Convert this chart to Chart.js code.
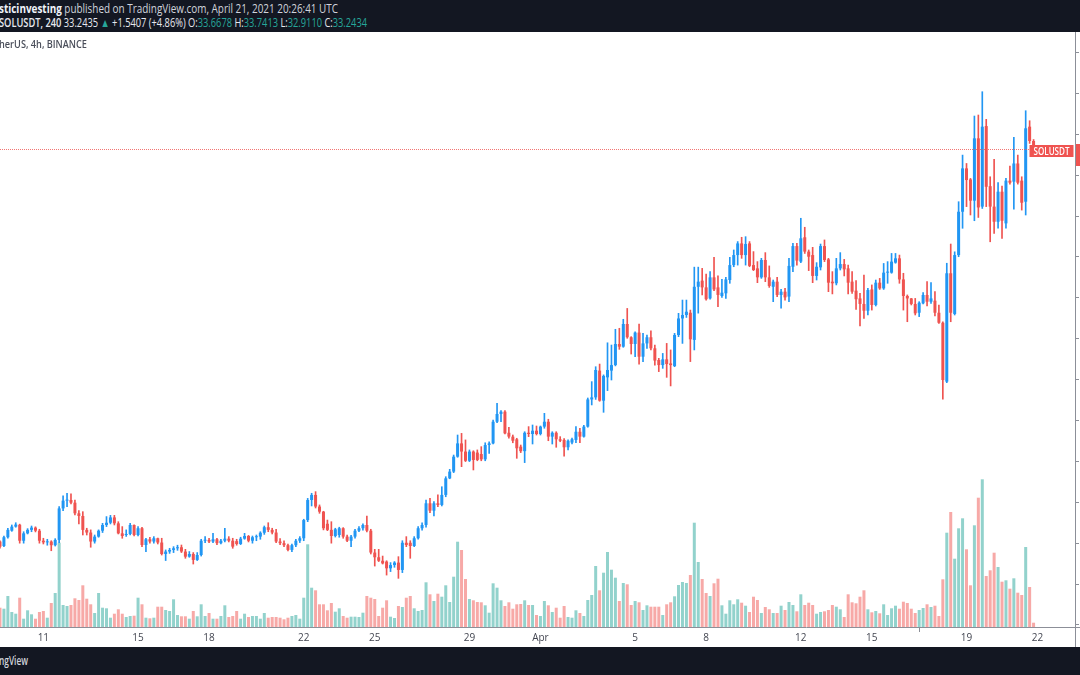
<!DOCTYPE html>
<html><head><meta charset="utf-8">
<script src="https://cdn.jsdelivr.net/npm/chart.js@4.4.0/dist/chart.umd.min.js"></script>
<style>
html,body{margin:0;padding:0;width:1080px;height:675px;overflow:hidden;background:#fff;}
#top{position:absolute;left:0;top:0;width:1080px;height:32px;background:#131722;overflow:hidden;}
#bottom{position:absolute;left:0;top:647px;width:1080px;height:28px;background:#131722;overflow:hidden;}
.t{position:absolute;white-space:nowrap;transform-origin:0 50%;font-family:"Open Sans","Noto Sans",sans-serif;line-height:14px;}
.g{color:#26a69a;}
#wrap{position:absolute;left:-2px;top:32px;width:1140px;height:615px;}
</style></head><body>
<div id="wrap"><canvas id="c" width="1140" height="615"></canvas></div>
<div id="top">
  <div class="t" id="h1" style="left:-1px;top:2px;font-size:12px;color:#d1d4dc;"><b style="color:#f0f3fa">sticinvesting</b> published on TradingView.com, April 21, 2021 20:26:41 UTC</div>
  <div class="t" id="h2" style="left:-1px;top:16px;font-size:12px;color:#e6e8ee;"><span style="font-weight:600">SOLUSDT, 240</span> 33.2435 <span class="g">▲</span> +1.5407 (+4.86%) O:<span class="g">33.6678</span> H:<span class="g">33.7413</span> L:<span class="g">32.9110</span> C:<span class="g">33.2434</span></div>
</div>
<div class="t" id="sub" style="left:-1px;top:37px;font-size:11px;font-weight:600;color:#4a4e5a;">herUS, 4h, BINANCE</div>
<div id="bottom"><div class="t" id="brand" style="left:-1px;top:7px;font-size:12px;font-weight:600;color:#d1d4dc;">ngView</div></div>
<script>
// ---- data (SOL/USDT, Binance, 4h candles from 2021-03-09 04:00 UTC) ----
const startTimeUTC = Date.UTC(2021, 2, 9, 4);
const slotCount = 273; // candle slots incl. empty right margin

const opens = [
14.08,13.86,14.29,14.61,14.81,14.90,14.12,14.48,14.65,14.76,
14.61,14.12,14.04,14.08,13.90,14.16,15.70,16.08,16.11,15.98,
15.46,15.33,14.65,14.52,14.08,14.32,14.61,14.89,15.00,15.26,
14.97,14.48,14.40,14.45,14.89,14.40,14.73,13.91,14.19,14.08,
14.24,14.03,13.47,13.59,13.67,13.75,13.80,13.59,13.34,13.47,
13.18,13.42,14.12,14.16,14.08,14.19,14.00,14.12,14.22,14.12,
14.10,13.96,14.22,14.35,14.12,14.29,14.32,14.51,14.78,14.65,
14.52,14.08,14.00,13.90,13.67,13.90,14.12,14.24,15.13,16.11,
16.36,15.79,15.54,14.95,14.65,14.35,14.40,14.73,14.32,14.12,
14.32,14.61,14.73,14.89,14.61,13.54,13.31,13.14,13.10,12.77,
12.93,13.05,12.69,14.02,14.02,13.86,14.24,14.73,14.89,15.95,
15.59,15.95,15.87,16.36,17.17,17.50,18.23,18.88,18.48,18.03,
18.48,18.43,18.36,18.10,18.80,18.88,19.94,20.32,20.43,19.40,
19.21,19.08,18.72,18.50,19.40,19.34,19.50,19.34,19.70,19.94,
19.21,19.40,19.08,19.05,18.69,18.92,19.05,19.45,19.21,19.70,
21.03,21.13,22.44,20.97,22.11,22.44,22.71,23.74,23.61,24.72,
24.07,23.74,24.30,23.12,23.77,24.07,23.53,22.96,22.71,22.99,
22.79,22.66,24.18,24.99,25.16,25.27,23.94,26.54,26.84,26.51,
25.97,27.00,26.51,26.09,26.22,26.87,27.60,28.09,28.66,28.09,
28.66,27.60,27.44,27.00,27.85,27.00,26.54,26.79,26.14,26.30,
26.06,27.52,28.53,27.77,28.96,28.26,28.09,27.07,27.49,28.53,
27.88,26.79,26.71,27.44,27.65,27.44,26.79,26.35,25.97,25.70,
25.37,26.41,25.65,26.74,26.46,27.23,27.23,27.72,27.93,26.90,
26.09,25.97,25.70,25.27,25.73,26.14,25.81,25.86,25.27,24.78,
21.90,27.20,25.21,28.09,30.21,32.33,31.79,30.75,33.80,30.46,
34.40,31.46,30.46,29.72,31.19,29.64,31.73,31.68,32.57,31.73,
30.70,34.37,33.67
];
const highs = [
14.12,14.35,14.73,14.89,15.00,14.93,14.56,14.71,14.84,14.80,
14.68,14.24,14.19,14.12,14.22,15.79,16.31,16.44,16.41,16.11,
15.59,15.54,14.73,14.65,14.40,14.65,14.97,15.30,15.36,15.36,
15.05,14.81,14.65,14.97,14.90,14.81,14.78,14.24,14.29,14.32,
14.25,14.24,13.67,13.75,13.83,13.90,13.91,13.70,13.59,13.54,
13.54,14.19,14.32,14.24,14.48,14.24,14.19,14.73,14.32,14.24,
14.19,14.29,14.48,14.38,14.35,14.40,14.56,14.84,15.00,14.73,
14.68,14.22,14.12,13.96,13.96,14.19,14.32,15.17,16.19,16.44,
16.52,15.87,15.56,15.13,15.05,14.73,14.78,14.76,14.40,14.38,
14.68,14.81,14.94,15.33,14.68,13.70,13.70,13.37,13.14,13.05,
13.10,13.34,14.12,14.32,14.12,14.32,14.81,15.00,16.11,16.19,
16.03,16.36,16.76,17.25,17.61,18.31,19.29,19.37,19.05,18.56,
18.52,18.56,18.72,18.91,18.96,20.02,20.84,20.48,20.48,19.66,
19.29,19.13,18.80,19.45,19.70,19.78,19.73,19.73,20.35,20.06,
19.45,19.45,19.21,19.11,19.05,19.14,19.70,19.62,19.76,21.10,
21.90,22.63,22.76,22.23,23.80,23.69,24.46,24.51,24.95,25.48,
24.10,24.34,24.72,24.26,24.18,24.39,23.69,23.04,23.28,23.77,
23.45,24.26,25.24,25.89,25.89,25.40,27.50,27.50,27.44,27.16,
27.28,27.98,27.07,26.90,27.00,27.98,28.34,28.75,28.96,28.99,
28.75,28.26,27.77,27.93,28.21,27.56,26.87,27.00,26.41,26.46,
27.93,28.66,28.66,29.89,29.45,28.34,28.47,27.72,28.63,28.83,
27.93,27.28,27.93,28.21,27.88,27.60,27.28,26.84,26.22,27.11,
26.46,26.63,26.87,26.95,27.68,27.77,28.17,28.17,28.09,27.20,
26.14,25.97,25.97,25.81,26.25,26.79,26.74,26.30,25.65,24.83,
27.69,28.63,28.25,30.70,32.98,32.57,31.84,34.89,34.94,36.08,
34.73,31.92,32.77,31.63,31.47,31.84,32.44,33.85,32.98,31.92,
35.15,34.66,33.74
];
const lows = [
13.75,13.83,14.24,14.58,14.78,14.00,14.00,14.45,14.56,14.55,
14.00,13.96,13.90,13.63,13.86,14.03,15.59,15.79,15.92,15.38,
14.94,14.40,14.40,13.80,14.00,14.29,14.52,14.81,14.94,14.89,
14.45,14.24,14.33,14.40,14.35,14.35,13.83,13.59,14.00,14.00,
13.96,13.42,13.15,13.50,13.54,13.65,13.54,13.26,13.31,12.98,
13.15,13.37,14.03,14.03,14.03,13.93,13.96,14.06,14.06,13.75,
13.90,13.93,14.19,14.06,14.00,14.12,14.19,14.43,14.56,14.45,
14.03,13.93,13.83,13.62,13.59,13.83,14.03,14.12,15.05,15.82,
15.72,15.46,14.65,14.61,14.00,14.30,14.29,14.24,14.07,13.83,
14.24,14.56,14.64,14.55,13.47,12.88,13.10,12.98,12.44,12.61,
12.82,12.28,12.56,13.83,13.26,13.83,14.19,14.64,14.78,15.49,
15.33,15.79,15.82,16.27,17.15,17.45,18.20,17.74,17.99,17.99,
17.58,18.03,18.03,18.03,18.39,18.85,19.89,19.94,19.34,19.13,
18.91,18.15,18.43,17.94,19.21,18.85,19.29,19.29,19.62,19.01,
18.85,18.69,18.96,18.26,18.56,18.85,18.92,18.92,19.18,19.67,
20.76,21.03,20.94,20.40,21.46,21.98,22.67,23.48,23.58,24.02,
23.25,23.12,22.76,22.88,23.53,23.45,22.71,22.39,22.55,22.11,
21.69,22.63,24.10,23.77,25.04,22.88,23.45,25.25,26.14,25.89,
25.93,26.35,25.57,26.02,25.97,26.71,27.52,27.60,27.93,27.60,
27.52,27.33,26.74,26.95,26.79,26.51,25.81,26.06,25.49,25.89,
25.81,27.28,27.60,27.72,28.17,27.33,26.74,26.87,27.36,27.77,
26.30,26.19,26.63,27.36,27.07,26.19,26.22,25.43,24.62,24.99,
25.16,25.40,25.60,26.41,26.41,26.71,27.20,27.69,26.71,25.40,
24.83,25.65,25.16,25.08,25.70,25.60,25.73,25.11,24.75,21.04,
21.85,24.83,25.16,28.01,29.40,30.46,30.05,29.77,29.93,30.37,
30.46,28.74,29.15,29.40,28.91,29.40,31.56,30.33,31.56,30.29,
30.05,33.55,32.91
];
const closes = [
13.83,14.29,14.65,14.81,14.91,14.12,14.48,14.65,14.76,14.61,
14.12,14.04,14.08,13.90,14.16,15.70,16.08,16.11,15.98,15.46,
15.33,14.65,14.52,14.08,14.32,14.61,14.89,15.00,15.26,14.97,
14.48,14.35,14.45,14.89,14.40,14.73,13.91,14.19,14.08,14.24,
14.03,13.47,13.59,13.67,13.75,13.80,13.59,13.34,13.47,13.18,
13.42,14.12,14.16,14.08,14.19,14.00,14.12,14.22,14.12,13.83,
13.96,14.22,14.35,14.12,14.29,14.32,14.51,14.78,14.65,14.52,
14.08,14.00,13.90,13.67,13.90,14.12,14.24,15.13,16.11,16.36,
15.79,15.54,14.73,14.65,14.35,14.68,14.73,14.32,14.12,14.32,
14.61,14.73,14.89,14.61,13.54,13.31,13.14,13.01,12.77,12.93,
13.05,12.69,14.02,13.91,13.86,14.24,14.73,14.89,15.95,15.59,
15.95,15.87,16.36,17.17,17.50,18.23,18.88,18.48,18.03,18.48,
18.07,18.07,18.10,18.80,18.88,19.94,20.32,20.43,19.37,19.21,
19.01,18.64,18.50,19.40,19.34,19.50,19.34,19.70,19.94,19.21,
19.40,19.08,19.01,18.69,19.01,19.08,19.45,19.21,19.70,21.03,
21.13,22.47,20.97,22.18,22.47,22.71,23.74,23.61,24.72,24.07,
23.74,24.30,23.12,23.77,24.07,23.53,22.93,22.71,22.99,22.76,
22.71,24.18,24.99,25.16,25.32,23.97,26.54,26.79,26.51,25.93,
27.00,26.41,26.14,26.25,26.90,27.60,28.09,28.66,28.09,28.63,
27.56,27.36,27.00,27.85,27.00,26.58,26.79,26.14,26.30,26.02,
27.56,28.53,27.82,28.91,28.26,28.01,27.07,27.52,28.53,27.85,
26.74,26.71,27.44,27.65,27.39,26.74,26.30,25.93,25.70,25.37,
26.38,25.65,26.74,26.46,27.23,27.28,27.77,27.93,26.90,26.09,
25.97,25.70,25.24,25.76,26.14,25.81,25.97,25.27,24.78,21.98,
27.20,25.27,28.09,30.21,32.33,31.76,30.75,33.80,30.42,34.37,
31.43,30.46,29.72,31.19,29.77,31.73,31.63,32.57,31.63,30.65,
34.29,33.67,33.24
];
const volumes = [ // thousands
193,183,310,150,133,293,83,167,127,83,
150,160,93,240,340,843,220,210,220,287,
270,417,283,227,140,340,193,187,93,133,
177,133,100,110,113,293,227,93,87,93,
203,203,170,160,277,120,107,107,83,160,
107,227,110,140,83,83,110,217,100,110,
160,83,133,100,110,110,83,140,93,100,
100,93,77,93,110,120,83,293,827,393,
367,227,227,167,240,153,187,110,93,103,
103,100,143,310,293,280,110,193,267,103,
90,210,200,293,310,187,160,170,447,327,
260,333,303,417,250,503,853,770,480,280,
267,250,247,217,143,437,393,267,210,247,
183,227,230,267,220,220,120,110,260,217,
150,193,93,210,100,93,167,140,110,270,
320,610,367,543,750,573,493,260,440,427,
220,260,247,170,217,203,203,203,120,227,
247,307,420,450,440,520,1043,650,480,340,
310,437,483,217,133,267,227,277,243,213,
150,303,270,140,200,177,140,140,213,170,
250,220,157,327,220,243,220,133,150,157,
170,220,203,177,100,327,247,237,303,367,
177,147,160,137,227,120,187,213,183,253,
240,183,140,170,190,227,200,213,110,477,
943,1150,683,987,1087,777,417,1017,1293,1477,
510,567,743,600,453,467,383,487,343,320,
800,400,43
];
const tickDays   = ['03-11','03-15','03-18','03-22','03-25','03-29','04-01','04-05','04-08','04-12','04-15','04-19','04-22'];
const tickLabels = ['11','15','18','22','25','29','Apr','5','8','12','15','19','22'];
const priceTicks = [10,12,14,16,18,20,22,24,26,28,30,32,34,36,38];
const symbolName = 'SOLUSDT';

// ---- build categories ----
const pad = n => String(n).padStart(2, '0');
const labels = [], tickText = [];
for (let k = 0; k < slotCount; k++) {
  const d = new Date(startTimeUTC + k * 4 * 3600 * 1000);
  const key = pad(d.getUTCMonth() + 1) + '-' + pad(d.getUTCDate());
  labels.push(key + ' ' + pad(d.getUTCHours()) + ':00');
  const ti = d.getUTCHours() === 0 ? tickDays.indexOf(key) : -1;
  tickText.push(ti >= 0 ? tickLabels[ti] : null);
}

const UP = '#2196f3', DOWN = '#ef5350';
const VUP = 'rgba(38,166,154,0.5)', VDOWN = 'rgba(239,83,80,0.5)';
const AXIS = '#8c8f98';
const isUp = k => closes[k] >= opens[k];
const padN = arr => arr.concat(new Array(slotCount - arr.length).fill(null));

const bodyData = padN(opens.map((o, k) => [o, closes[k]]));
const wickData = padN(lows.map((l, k) => [l, highs[k]]));
const candleColors = padN(opens.map((o, k) => isUp(k) ? UP : DOWN));
const volColors = padN(opens.map((o, k) => isUp(k) ? VUP : VDOWN));

const alignPx = (p) => Math.round(p - 0.5) + 0.5;

const overlay = {
  id: 'overlay',
  afterDraw(chart) {
    const { ctx, chartArea: a } = chart;
    const y = chart.scales.y;
    const W = chart.width, H = chart.height;
    const last = closes[closes.length - 1];
    const ly = y.getPixelForValue(last);
    const xr = alignPx(a.right), yb = alignPx(a.bottom);
    ctx.save();
    // axis lines extension
    ctx.strokeStyle = AXIS; ctx.lineWidth = 1;
    ctx.beginPath();
    ctx.moveTo(xr, yb); ctx.lineTo(W, yb);
    ctx.moveTo(xr, a.bottom); ctx.lineTo(xr, H);
    ctx.stroke();
    // label box
    const bw = 44, bh = 12;
    const bx = a.right - 1.5 - bw;
    // dotted price line
    ctx.strokeStyle = 'rgba(239,83,80,0.8)';
    ctx.setLineDash([1, 1]);
    ctx.beginPath();
    ctx.moveTo(a.left, alignPx(ly)); ctx.lineTo(bx, alignPx(ly));
    ctx.stroke();
    ctx.setLineDash([]);
    ctx.fillStyle = '#ef5350';
    ctx.fillRect(bx, Math.round(ly - 5), bw, bh);
    // price label on the scale (mostly outside the frame)
    ctx.fillRect(xr + 0.5, Math.round(ly - 6), W - xr, 22);
    // symbol text
    ctx.fillStyle = '#ffffff';
    ctx.font = '600 11px "Open Sans", sans-serif';
    ctx.textBaseline = 'middle';
    ctx.textAlign = 'left';
    const tw = ctx.measureText(symbolName).width;
    const target = 36;
    const sx = Math.min(1, target / tw);
    ctx.translate(bx + (bw - tw * sx) / 2, Math.round(ly - 5) + bh / 2 + 0.5);
    ctx.scale(sx, 1);
    ctx.fillText(symbolName, 0, 0);
    ctx.restore();
  }
};

new Chart(document.getElementById('c'), {
  type: 'bar',
  data: {
    labels,
    datasets: [
      { label: 'Bodies', data: bodyData, backgroundColor: candleColors, barPercentage: 0.76, categoryPercentage: 1,
        grouped: false, minBarLength: 1, order: 1, yAxisID: 'y', borderWidth: 0 },
      { label: 'Wicks', data: wickData, backgroundColor: candleColors, barThickness: 1,
        grouped: false, order: 2, yAxisID: 'y', borderWidth: 0 },
      { label: 'Volume', data: padN(volumes), backgroundColor: volColors, barPercentage: 0.76, categoryPercentage: 1,
        grouped: false, order: 3, yAxisID: 'yv', borderWidth: 0 }
    ]
  },
  options: {
    responsive: false,
    devicePixelRatio: 1,
    animation: false,
    events: [],
    layout: { padding: 0 },
    plugins: { legend: { display: false }, tooltip: { enabled: false } },
    scales: {
      x: {
        type: 'category',
        offset: true,
        grid: {
          display: true, drawOnChartArea: false, drawTicks: true, tickLength: 5,
          color: (c) => tickText[c.index] ? AXIS : 'rgba(0,0,0,0)',
          tickColor: (c) => tickText[c.index] ? AXIS : 'rgba(0,0,0,0)'
        },
        border: { display: true, color: AXIS, width: 1 },
        ticks: {
          autoSkip: false, maxRotation: 0, minRotation: 0, padding: 0,
          color: '#434651', font: { family: '"Open Sans", sans-serif', size: 10 },
          callback: (v, i) => tickText[i]
        },
        afterFit: (s) => { s.height = 20; }
      },
      y: {
        position: 'right',
        min: 9.9, max: 39.0,
        afterBuildTicks: (s) => { s.ticks = priceTicks.map(v => ({ value: v })); },
        grid: { display: true, drawOnChartArea: false, drawTicks: true, tickLength: 4, color: AXIS },
        border: { display: true, color: AXIS, width: 1 },
        ticks: { display: false },
        afterFit: (s) => { s.width = 63; }
      },
      yv: {
        display: false,
        min: 0, max: 5950
      }
    }
  },
  plugins: [overlay]
});

// fit header text widths to the reference layout
function fitWidth(id, right) {
  const el = document.getElementById(id);
  const w = el.getBoundingClientRect().width;
  const l = el.offsetLeft;
  el.style.transform = 'scaleX(' + ((right - l) / w) + ')';
}
fitWidth('h1', 338);
fitWidth('h2', 367);
fitWidth('sub', 87);
fitWidth('brand', 28);
</script>
</body></html>
